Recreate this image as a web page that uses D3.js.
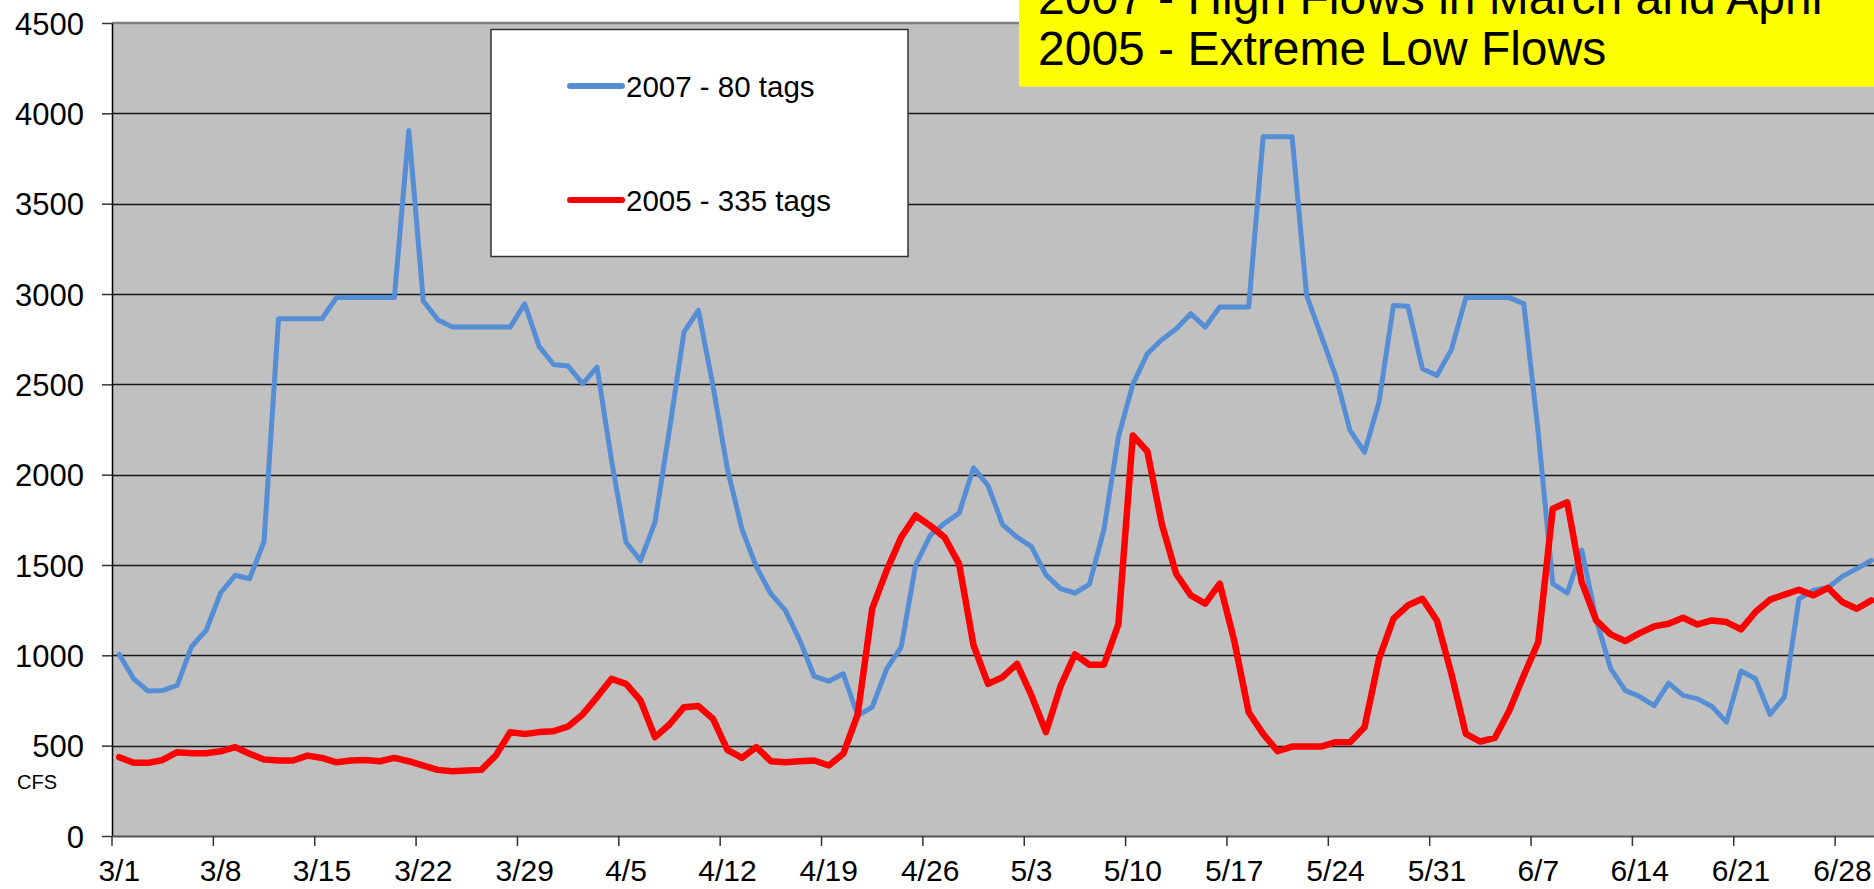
<!DOCTYPE html>
<html>
<head>
<meta charset="utf-8">
<script src="https://cdn.jsdelivr.net/npm/d3@7"></script>
<style>
body { margin: 0; background: #fff; }
svg { display: block; font-family: Arial, "Liberation Sans", sans-serif; }
</style>
</head>
<body>
<svg id="chart"></svg>
<script>
var width = 1874, height = 889;

// daily flows (cfs), 3/1 .. 6/30
var flow2007 = [1005, 870, 802, 806, 833, 1049, 1138, 1345, 1443, 1424,
    1630, 2863, 2863, 2863, 2863, 2980, 2980, 2980, 2980, 2980,
    3905, 2961, 2858, 2817, 2817, 2817, 2817, 2817, 2946, 2710,
    2610, 2601, 2503, 2595, 2078, 1626, 1524, 1737, 2250, 2789,
    2909, 2494, 2032, 1700, 1490, 1341, 1249, 1083, 883, 857,
    898, 667, 713, 925, 1045, 1500, 1663, 1731, 1787, 2038,
    1940, 1724, 1654, 1602, 1445, 1369, 1345, 1393, 1694, 2208,
    2500, 2669, 2747, 2808, 2891, 2817, 2928, 2928, 2928, 3870,
    3870, 3870, 2993, 2771, 2549, 2245, 2125, 2402, 2937, 2932,
    2586, 2549, 2692, 2980, 2980, 2980, 2980, 2946, 2230, 1397,
    1345, 1583, 1200, 926, 806, 772, 722, 846, 778, 759,
    717, 630, 913, 870, 673, 769, 1313, 1360, 1374, 1437,
    1480, 1525];

var flow2005 = [436, 405, 405, 421, 464, 458, 458, 469, 492, 455,
    423, 418, 418, 445, 432, 408, 418, 421, 414, 432,
    414, 390, 366, 359, 362, 366, 445, 575, 565, 575,
    580, 606, 673, 769, 870, 842, 750, 547, 617, 713,
    719, 649, 477, 432, 492, 414, 408, 414, 418, 390,
    455, 673, 1258, 1470, 1653, 1774, 1718, 1653, 1506, 1055,
    842, 879, 953, 778, 575, 828, 1005, 948, 948, 1171,
    2217, 2130, 1727, 1450, 1332, 1286, 1397, 1083, 685, 565,
    469, 495, 495, 495, 519, 519, 602, 981, 1203, 1277,
    1313, 1193, 898, 565, 523, 543, 695, 889, 1074, 1811,
    1847, 1406, 1193, 1116, 1079, 1123, 1160, 1175, 1208, 1171,
    1193, 1184, 1144, 1240, 1308, 1336, 1363, 1332, 1374, 1295,
    1258, 1304];

var tickLabels = ["3/1", "3/8", "3/15", "3/22", "3/29", "4/5", "4/12", "4/19", "4/26",
    "5/3", "5/10", "5/17", "5/24", "5/31", "6/7", "6/14", "6/21", "6/28"];
var yTicks = [0, 500, 1000, 1500, 2000, 2500, 3000, 3500, 4000, 4500];
var seriesNames = ["2007 - 80 tags", "2005 - 335 tags"];
var seriesColors = ["#558ed5", "#ff0000"];
var noteLines = ["2007 - High Flows in March and April", "2005 - Extreme Low Flows"];

var fmt = d3.timeFormat("%-m/%-d");
var days = d3.timeDay.range(new Date(2007, 2, 1), new Date(2007, 6, 1)).map(fmt);

var plotL = 112, plotT = 23, plotB = 836, dayW = 14.48;
var font = "Arial, 'Liberation Sans', sans-serif";

var svg = d3.select("#chart").attr("width", width).attr("height", height);
svg.append("rect").attr("width", width).attr("height", height).attr("fill", "#fff");

var x = d3.scaleBand().domain(days).range([plotL, plotL + days.length * dayW]).padding(0);
var y = d3.scaleLinear().domain([0, 4500]).range([plotB, plotT]);
var plotR = x.range()[1];

// plot area
svg.append("rect")
    .attr("x", plotL).attr("y", plotT)
    .attr("width", plotR - plotL).attr("height", plotB - plotT)
    .attr("fill", "#c0c0c0");

// gridlines
svg.append("g").selectAll("line")
    .data(yTicks.filter(function(d){ return d > 0 && d < 4500; }))
    .enter().append("line")
    .attr("x1", plotL).attr("x2", plotR)
    .attr("y1", function(d){ return Math.round(y(d)) + 0.5; })
    .attr("y2", function(d){ return Math.round(y(d)) + 0.5; })
    .attr("stroke", "#1a1a1a").attr("stroke-width", 1.3);

svg.append("line")
    .attr("x1", plotL).attr("x2", plotR)
    .attr("y1", plotT).attr("y2", plotT)
    .attr("stroke", "#7f7f7f").attr("stroke-width", 2.5);

// y axis
var yAxis = svg.append("g")
    .attr("transform", "translate(" + plotL + ",0)")
    .call(d3.axisLeft(y).tickValues(yTicks).tickFormat(d3.format("d"))
        .tickSize(10).tickSizeOuter(0).tickPadding(18));
yAxis.select(".domain").attr("stroke", "#000").attr("stroke-width", 1.5);
yAxis.selectAll(".tick line").attr("stroke", "#333").attr("stroke-width", 1.5);
yAxis.selectAll("text")
    .attr("font-size", 31).attr("fill", "#000").attr("dy", "0.36em")
    .attr("font-family", font);

// x axis: labels centred on the day, ticks on the week boundaries
var xAxis = svg.append("g")
    .attr("transform", "translate(0," + plotB + ")")
    .call(d3.axisBottom(x).tickValues(tickLabels).tickSize(0).tickSizeOuter(0).tickPadding(24));
xAxis.select(".domain").attr("stroke", "#555").attr("stroke-width", 2);
xAxis.selectAll("text")
    .attr("font-size", 30).attr("fill", "#000")
    .attr("font-family", font);

svg.append("g").selectAll("line")
    .data(tickLabels)
    .enter().append("line")
    .attr("x1", function(d){ return x(d); })
    .attr("x2", function(d){ return x(d); })
    .attr("y1", plotB).attr("y2", plotB + 10)
    .attr("stroke", "#333").attr("stroke-width", 1.5);

svg.append("text")
    .attr("x", 17).attr("y", 789)
    .attr("font-size", 20)
    .text("CFS");

// series
var line = d3.line()
    .x(function(d, i){ return x(days[i]) + x.bandwidth() / 2; })
    .y(function(d){ return y(d); });

[flow2007, flow2005].forEach(function(s, k){
    svg.append("path")
        .datum(s)
        .attr("d", line)
        .attr("fill", "none")
        .attr("stroke", seriesColors[k])
        .attr("stroke-width", k == 0 ? 5 : 6.5)
        .attr("stroke-linejoin", "round")
        .attr("stroke-linecap", "round");
});

// legend
var leg = svg.append("g");
leg.append("rect")
    .attr("x", 491).attr("y", 29.5).attr("width", 417).attr("height", 227)
    .attr("fill", "#fff").attr("stroke", "#333").attr("stroke-width", 1.5);
seriesNames.forEach(function(name, k){
    var ly = k == 0 ? 86 : 200;
    leg.append("line")
        .attr("x1", 570).attr("x2", 622).attr("y1", ly).attr("y2", ly)
        .attr("stroke", seriesColors[k]).attr("stroke-width", 6)
        .attr("stroke-linecap", "round");
    leg.append("text")
        .attr("x", 626).attr("y", ly).attr("dy", "0.36em")
        .attr("font-size", 29.5)
        .text(name);
});

// note box
var note = svg.append("g");
note.append("rect")
    .attr("x", 1019).attr("y", -5).attr("width", 900).attr("height", 91.7)
    .attr("fill", "#ffff00");
noteLines.forEach(function(t, k){
    note.append("text")
        .attr("x", 1038).attr("y", k == 0 ? 14 : 65)
        .attr("font-size", 48)
        .text(t);
});
</script>
</body>
</html>
